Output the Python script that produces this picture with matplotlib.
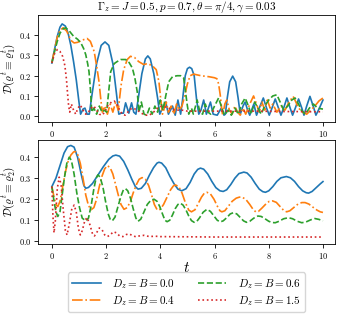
import numpy as np
import matplotlib
matplotlib.use("Agg")
import matplotlib.pyplot as plt

plt.rcParams["mathtext.fontset"] = "cm"
plt.rcParams["font.family"] = "serif"
plt.rcParams["font.serif"] = ["cmr10", "DejaVu Serif"]
plt.rcParams["axes.formatter.use_mathtext"] = True

LABELS = [r"$D_z=B=0.0$", r"$D_z=B=0.4$", r"$D_z=B=0.6$", r"$D_z=B=1.5$"]
COLORS = ["C0", "C1", "C2", "C3"]
STYLES = ["-", "-.", "--", ":"]

# ---- top panel: D(rho^t = rho_1^t) ----
t_top_b = [0, 0.1, 0.2, 0.3, 0.38, 0.5, 0.6, 0.7, 0.8, 0.9, 1.0, 1.06, 1.15, 1.22, 1.3,
           1.38, 1.49, 1.65, 1.82, 1.96, 2.1, 2.25, 2.38, 2.47, 2.56, 2.64, 2.72, 2.84, 2.94,
           3.02, 3.1, 3.19, 3.32, 3.45, 3.54, 3.63, 3.76, 3.9, 3.98, 4.08, 4.2, 4.3, 4.45,
           4.55, 4.65, 4.75, 4.82, 4.92, 5.0, 5.08, 5.16, 5.25, 5.34, 5.42, 5.5, 5.6, 5.7,
           5.85, 5.95, 6.1, 6.25, 6.35, 6.4, 6.47, 6.56, 6.67, 6.78, 6.87, 6.95, 7.05, 7.13,
           7.22, 7.3, 7.45, 7.55, 7.68, 7.8, 7.92, 8.02, 8.12, 8.24, 8.36, 8.45, 8.55, 8.67,
           8.79, 8.88, 8.98, 9.1, 9.22, 9.3, 9.4, 9.52, 9.64, 9.74, 9.87, 10.0]
d_top_b = [0.263, 0.33, 0.395, 0.44, 0.456, 0.445, 0.41, 0.35, 0.27, 0.18, 0.07, 0.01, 0.035,
           0.04, 0.01, 0.01, 0.115, 0.26, 0.35, 0.367, 0.35, 0.26, 0.115, 0.01, 0.015, 0.015,
           0.066, 0.015, 0.066, 0.02, 0.01, 0.09, 0.21, 0.283, 0.298, 0.283, 0.21, 0.09, 0.01,
           0.04, 0.07, 0.01, 0.05, 0.005, 0.08, 0.01, 0.08, 0.2, 0.235, 0.242, 0.235, 0.2,
           0.08, 0.01, 0.03, 0.08, 0.01, 0.07, 0.01, 0.005, 0.04, 0.005, 0.01, 0.09, 0.17,
           0.198, 0.17, 0.09, 0.01, 0.05, 0.07, 0.03, 0.005, 0.06, 0.005, 0.05, 0.09, 0.04,
           0.005, 0.04, 0.085, 0.04, 0.005, 0.04, 0.09, 0.04, 0.005, 0.04, 0.085, 0.04, 0.005,
           0.05, 0.098, 0.05, 0.005, 0.04, 0.08]

t_top_o = [0, 0.1, 0.2, 0.3, 0.42, 0.55, 0.7, 0.82, 0.95, 1.1, 1.3, 1.42, 1.56, 1.65, 1.74,
           1.8, 1.86, 1.95, 2.05, 2.15, 2.25, 2.35, 2.45, 2.55, 2.65, 2.78, 2.9, 3.05, 3.2,
           3.39, 3.52, 3.7, 3.85, 3.95, 4.02, 4.08, 4.15, 4.22, 4.3, 4.4, 4.5, 4.6, 4.7, 4.8,
           4.9, 5.0, 5.1, 5.23, 5.5, 5.8, 6.0, 6.09, 6.15, 6.21, 6.27, 6.3, 6.38, 6.45, 6.55,
           6.65, 6.75, 6.85, 6.95, 7.05, 7.15, 7.3, 7.44, 7.55, 7.65, 7.75, 7.85, 7.95, 8.05,
           8.15, 8.3, 8.45, 8.6, 8.75, 8.9, 9.0, 9.1, 9.25, 9.4, 9.55, 9.7, 9.85, 10.0]
d_top_o = [0.263, 0.33, 0.39, 0.425, 0.437, 0.42, 0.375, 0.362, 0.365, 0.375, 0.384, 0.37,
           0.32, 0.25, 0.17, 0.09, 0.02, 0.05, 0.01, 0.06, 0.02, 0.07, 0.03, 0.15, 0.23, 0.28,
           0.296, 0.29, 0.27, 0.255, 0.26, 0.25, 0.23, 0.17, 0.08, 0.01, 0.04, 0.07, 0.02,
           0.05, 0.01, 0.06, 0.03, 0.05, 0.1, 0.16, 0.2, 0.208, 0.2, 0.195, 0.19, 0.185, 0.16,
           0.106, 0.03, 0.005, 0.06, 0.08, 0.03, 0.01, 0.05, 0.02, 0.005, 0.04, 0.01, 0.06,
           0.1, 0.06, 0.02, 0.07, 0.03, 0.08, 0.04, 0.06, 0.02, 0.05, 0.03, 0.07, 0.098, 0.07,
           0.04, 0.02, 0.01, 0.03, 0.05, 0.075, 0.09]

t_top_g = [0, 0.1, 0.2, 0.3, 0.4, 0.51, 0.65, 0.8, 0.95, 1.07, 1.17, 1.25, 1.32, 1.37, 1.43,
           1.47, 1.55, 1.65, 1.75, 1.85, 1.95, 2.02, 2.08, 2.17, 2.3, 2.41, 2.54, 2.72, 2.85,
           2.97, 3.06, 3.15, 3.21, 3.3, 3.4, 3.5, 3.6, 3.7, 3.8, 3.9, 4.0, 4.1, 4.2, 4.31,
           4.45, 4.62, 4.75, 4.86, 4.93, 5.0, 5.05, 5.15, 5.22, 5.36, 5.46, 5.56, 5.66, 5.76,
           5.86, 6.0, 6.15, 6.27, 6.37, 6.5, 6.62, 6.75, 6.88, 7.0, 7.13, 7.25, 7.35, 7.48,
           7.6, 7.72, 7.85, 8.0, 8.15, 8.3, 8.42, 8.55, 8.7, 8.85, 8.97, 9.1, 9.2, 9.35, 9.5,
           9.65, 9.8, 10.0]
d_top_g = [0.263, 0.32, 0.37, 0.41, 0.43, 0.437, 0.42, 0.395, 0.38, 0.362, 0.335, 0.304,
           0.26, 0.22, 0.12, 0.02, 0.04, 0.01, 0.05, 0.02, 0.03, 0.02, 0.1, 0.22, 0.26, 0.27,
           0.28, 0.28, 0.265, 0.238, 0.19, 0.12, 0.02, 0.07, 0.01, 0.005, 0.04, 0.01, 0.05,
           0.02, 0.08, 0.03, 0.1, 0.17, 0.195, 0.2, 0.2, 0.19, 0.12, 0.05, 0.01, 0.04, 0.01,
           0.08, 0.02, 0.01, 0.06, 0.02, 0.01, 0.05, 0.09, 0.04, 0.005, 0.03, 0.005, 0.04,
           0.01, 0.06, 0.09, 0.05, 0.01, 0.07, 0.04, 0.01, 0.05, 0.08, 0.1, 0.106, 0.07, 0.03,
           0.05, 0.08, 0.09, 0.06, 0.03, 0.01, 0.04, 0.06, 0.04, 0.035]

t_top_r = [0, 0.1, 0.2, 0.3, 0.4, 0.48, 0.54, 0.58, 0.62, 0.66, 0.72, 0.8, 0.88, 0.96, 1.05,
           1.15, 1.25, 1.35, 1.45, 1.55, 1.65, 1.75, 1.85, 1.95, 2.05, 2.2, 2.3, 2.4, 2.5, 2.6,
           2.7, 2.8, 2.9, 3.0, 3.15, 3.3, 3.45, 3.6, 3.75, 3.9, 4.05, 4.2, 4.4, 4.6, 4.8, 5.0,
           5.5, 6.0, 6.5, 7.0, 7.5, 8.0, 8.5, 9.0, 9.5, 10.0]
d_top_r = [0.263, 0.31, 0.329, 0.32, 0.295, 0.25, 0.18, 0.11, 0.05, 0.02, 0.06, 0.03, 0.01,
           0.04, 0.055, 0.03, 0.01, 0.02, 0.04, 0.05, 0.03, 0.01, 0.005, 0.02, 0.05, 0.07,
           0.075, 0.06, 0.03, 0.01, 0.005, 0.02, 0.035, 0.04, 0.03, 0.015, 0.005, 0.005, 0.02,
           0.04, 0.05, 0.045, 0.035, 0.03, 0.03, 0.025, 0.025, 0.025, 0.025, 0.025, 0.025,
           0.024, 0.023, 0.023, 0.022, 0.022]

# ---- bottom panel: D(rho^t = rho_2^t) ----
t_bot_b = [0, 0.15, 0.3, 0.45, 0.58, 0.7, 0.82, 0.95, 1.08, 1.18, 1.25, 1.35, 1.5, 1.7, 1.9,
           2.1, 2.25, 2.36, 2.5, 2.65, 2.8, 2.95, 3.08, 3.18, 3.3, 3.45, 3.6, 3.75, 3.88, 3.95,
           4.05, 4.2, 4.35, 4.5, 4.65, 4.79, 4.95, 5.1, 5.25, 5.38, 5.48, 5.6, 5.75, 5.9, 6.05,
           6.2, 6.32, 6.45, 6.6, 6.75, 6.9, 7.08, 7.2, 7.35, 7.5, 7.65, 7.78, 7.88, 8.0, 8.15,
           8.3, 8.45, 8.65, 8.8, 8.95, 9.1, 9.25, 9.38, 9.47, 9.6, 9.75, 9.9, 10.0]
d_bot_b = [0.26, 0.30, 0.36, 0.42, 0.45, 0.456, 0.448, 0.40, 0.32, 0.265, 0.252, 0.256, 0.275,
           0.315, 0.355, 0.39, 0.406, 0.41, 0.405, 0.38, 0.34, 0.295, 0.26, 0.248, 0.252, 0.275,
           0.315, 0.35, 0.372, 0.376, 0.372, 0.35, 0.31, 0.275, 0.248, 0.24, 0.25, 0.28, 0.32,
           0.342, 0.348, 0.343, 0.32, 0.285, 0.255, 0.24, 0.237, 0.245, 0.27, 0.30, 0.322,
           0.329, 0.325, 0.305, 0.275, 0.248, 0.236, 0.233, 0.24, 0.26, 0.285, 0.302, 0.308,
           0.302, 0.285, 0.26, 0.24, 0.231, 0.229, 0.237, 0.255, 0.273, 0.284]

t_bot_o = [0, 0.08, 0.15, 0.22, 0.3, 0.4, 0.5, 0.6, 0.7, 0.8, 0.86, 0.95, 1.05, 1.15, 1.25,
           1.35, 1.45, 1.55, 1.65, 1.75, 1.85, 1.95, 2.05, 2.15, 2.25, 2.35, 2.45, 2.55, 2.66,
           2.78, 2.9, 3.0, 3.12, 3.22, 3.33, 3.45, 3.57, 3.68, 3.78, 3.89, 4.0, 4.12, 4.25,
           4.38, 4.48, 4.56, 4.68, 4.8, 4.92, 5.05, 5.15, 5.28, 5.4, 5.52, 5.62, 5.72, 5.85,
           5.98, 6.1, 6.2, 6.27, 6.38, 6.5, 6.65, 6.8, 6.92, 7.01, 7.15, 7.3, 7.42, 7.52, 7.62,
           7.75, 7.9, 8.02, 8.14, 8.28, 8.42, 8.55, 8.66, 8.78, 8.92, 9.08, 9.22, 9.34, 9.48,
           9.62, 9.78, 9.9, 10.0]
d_bot_o = [0.26, 0.21, 0.175, 0.165, 0.19, 0.26, 0.33, 0.38, 0.41, 0.425, 0.427, 0.415,
           0.37, 0.30, 0.22, 0.17, 0.15, 0.16, 0.20, 0.26, 0.31, 0.345, 0.36, 0.35, 0.32, 0.27,
           0.22, 0.175, 0.152, 0.16, 0.19, 0.23, 0.27, 0.295, 0.303, 0.295, 0.265, 0.22, 0.175,
           0.148, 0.152, 0.175, 0.21, 0.245, 0.263, 0.268, 0.26, 0.23, 0.185, 0.148, 0.14,
           0.15, 0.18, 0.21, 0.228, 0.233, 0.225, 0.20, 0.168, 0.145, 0.14, 0.145, 0.165, 0.19,
           0.205, 0.21, 0.21, 0.20, 0.175, 0.152, 0.14, 0.142, 0.158, 0.178, 0.19, 0.192,
           0.185, 0.165, 0.147, 0.14, 0.145, 0.16, 0.177, 0.184, 0.184, 0.177, 0.163, 0.148,
           0.14, 0.137]

t_bot_g = [0, 0.08, 0.15, 0.22, 0.3, 0.38, 0.46, 0.55, 0.64, 0.72, 0.82, 0.92, 1.02, 1.12,
           1.25, 1.35, 1.45, 1.55, 1.63, 1.7, 1.78, 1.88, 1.98, 2.08, 2.15, 2.23, 2.33, 2.45,
           2.55, 2.64, 2.72, 2.8, 2.9, 3.0, 3.1, 3.18, 3.28, 3.4, 3.52, 3.65, 3.77, 3.88, 3.98,
           4.08, 4.17, 4.25, 4.35, 4.45, 4.55, 4.65, 4.74, 4.84, 4.95, 5.05, 5.15, 5.25, 5.35,
           5.45, 5.58, 5.72, 5.85, 5.98, 6.1, 6.21, 6.32, 6.45, 6.58, 6.7, 6.82, 6.95, 7.07,
           7.18, 7.3, 7.45, 7.6, 7.72, 7.85, 8.0, 8.12, 8.24, 8.38, 8.55, 8.73, 8.88, 9.05,
           9.22, 9.38, 9.55, 9.7, 9.85, 10.0]
d_bot_g = [0.26, 0.19, 0.14, 0.118, 0.14, 0.22, 0.30, 0.37, 0.40, 0.385, 0.32, 0.23, 0.16,
           0.11, 0.097, 0.11, 0.17, 0.25, 0.30, 0.316, 0.305, 0.26, 0.19, 0.13, 0.105, 0.097,
           0.115, 0.17, 0.215, 0.245, 0.25, 0.24, 0.205, 0.155, 0.11, 0.095, 0.105, 0.14,
           0.175, 0.195, 0.20, 0.19, 0.165, 0.13, 0.10, 0.093, 0.10, 0.125, 0.155, 0.175,
           0.181, 0.172, 0.148, 0.12, 0.098, 0.09, 0.095, 0.112, 0.138, 0.152, 0.142, 0.12,
           0.10, 0.092, 0.097, 0.112, 0.13, 0.136, 0.13, 0.113, 0.097, 0.09, 0.095, 0.11, 0.12,
           0.118, 0.108, 0.095, 0.089, 0.088, 0.095, 0.107, 0.112, 0.107, 0.095, 0.088, 0.092,
           0.102, 0.108, 0.104, 0.097]

t_bot_r = [0, 0.04, 0.08, 0.13, 0.2, 0.27, 0.34, 0.42, 0.5, 0.56, 0.64, 0.73, 0.82, 0.9,
           0.98, 1.05, 1.12, 1.22, 1.3, 1.4, 1.5, 1.57, 1.65, 1.75, 1.85, 1.95, 2.05, 2.15,
           2.27, 2.38, 2.5, 2.62, 2.75, 2.85, 2.97, 3.1, 3.25, 3.4, 3.6, 3.8, 4.0, 5.0, 6.0,
           7.0, 8.0, 9.0, 10.0]
d_bot_r = [0.26, 0.12, 0.04, 0.10, 0.25, 0.305, 0.27, 0.15, 0.05, 0.03, 0.08, 0.15, 0.172,
           0.14, 0.06, 0.03, 0.05, 0.10, 0.112, 0.08, 0.035, 0.025, 0.04, 0.063, 0.055, 0.03,
           0.022, 0.03, 0.045, 0.04, 0.025, 0.022, 0.032, 0.035, 0.027, 0.021, 0.026, 0.028,
           0.022, 0.024, 0.022, 0.021, 0.02, 0.02, 0.02, 0.02, 0.02]

top = [(t_top_b, d_top_b), (t_top_o, d_top_o), (t_top_g, d_top_g), (t_top_r, d_top_r)]
bot = [(t_bot_b, d_bot_b), (t_bot_o, d_bot_o), (t_bot_g, d_bot_g), (t_bot_r, d_bot_r)]

fig = plt.figure(figsize=(3.42, 3.16), dpi=100)
ax1 = fig.add_axes([0.112, 0.615, 0.868, 0.3375])
ax2 = fig.add_axes([0.112, 0.228, 0.868, 0.329])

for ax, series in ((ax1, top), (ax2, bot)):
    for (t, d), c, ls, lab in zip(series, COLORS, STYLES, LABELS):
        ax.plot(t, d, color=c, linestyle=ls, linewidth=1.2, label=lab)
    ax.set_xlim(-0.5, 10.45)
    ax.set_xticks([0, 2, 4, 6, 8, 10])
    ax.set_yticks([0.0, 0.1, 0.2, 0.3, 0.4])
    ax.tick_params(labelsize=6, length=3, width=0.6, pad=2)
    for s in ax.spines.values():
        s.set_linewidth(0.6)

ax1.set_ylim(-0.027, 0.50)
ax2.set_ylim(-0.013, 0.482)
ax1.set_ylabel(r"$\mathcal{D}(\varrho^t\equiv\varrho^t_1)$", fontsize=8, labelpad=1)
ax2.set_ylabel(r"$\mathcal{D}(\varrho^t\equiv\varrho^t_2)$", fontsize=8, labelpad=1)
ax2.set_xlabel(r"$t$", fontsize=11, labelpad=0)
ax1.set_title(r"$\Gamma_z=J=0.5, p=0.7, \theta=\pi/4, \gamma=0.03$", fontsize=8, pad=2)

handles, labels = ax1.get_legend_handles_labels()
fig.legend(handles, labels, loc="upper center", bbox_to_anchor=(0.545, 0.138), ncol=2,
           fontsize=8, handlelength=2.6, columnspacing=2.0, borderpad=0.4,
           labelspacing=0.3, handletextpad=1.0, borderaxespad=0)

fig.savefig("out.png", dpi=100)
